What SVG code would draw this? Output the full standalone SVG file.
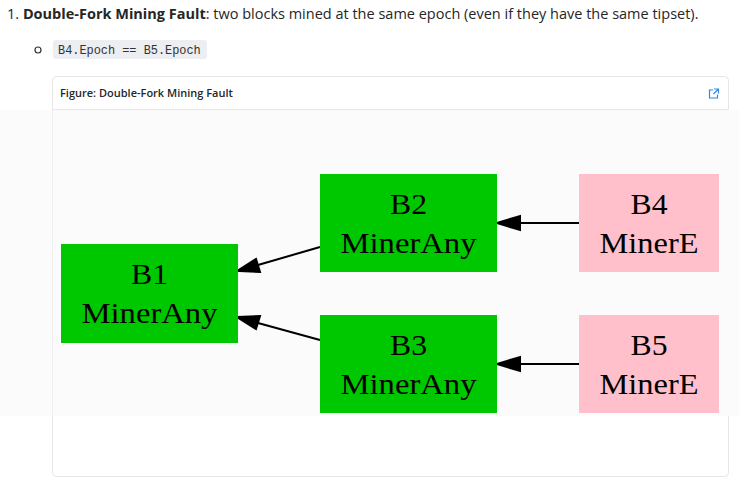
<svg xmlns="http://www.w3.org/2000/svg" width="739" height="489" viewBox="0 0 739 489">
<style>
.page{font-family:"Open Sans","Noto Sans",sans-serif;fill:#262626}
.code{font-family:"Liberation Mono","DejaVu Sans Mono",monospace;font-size:11.9px;fill:#333}
.lbl{font-family:"Liberation Serif","Times New Roman",serif;font-size:30px;fill:#000;text-anchor:middle}
.green{fill:#00c800}
.pink{fill:#ffc0cb}
.edge{stroke:#000;stroke-width:2;fill:none}
.head{fill:#000;stroke:#000;stroke-width:2}
</style>
<rect width="739" height="489" fill="#ffffff"/>
<text class="page" x="7" y="19" font-size="14.5">1. <tspan font-weight="bold">Double-Fork Mining Fault</tspan>: two blocks mined at the same epoch (even if they have the same tipset).</text>
<circle cx="38" cy="50" r="3" fill="none" stroke="#333" stroke-width="1.2"/>
<rect x="53" y="40" width="154" height="19" rx="3" fill="#eceef1"/>
<text class="code" x="58" y="54">B4.Epoch == B5.Epoch</text>
<rect x="52.5" y="76.5" width="676" height="400" rx="4" fill="#fff" stroke="#e6e6e6"/>
<line x1="53" y1="109.5" x2="728" y2="109.5" stroke="#e6e6e6"/>
<text class="page" x="60" y="97" font-size="11" font-weight="600" fill="#333">Figure: Double-Fork Mining Fault</text>
<g id="icon" fill="none" stroke="#2b8be6" stroke-width="1.2">
<path d="M713 90 h-3.5 v8 h8 v-3.5"/>
<path d="M714 89 h4.5 v4.5 M718.5 89 l-5 5"/>
</g>
<rect x="0" y="110" width="739" height="306" fill="#fbfbfb"/>
<line x1="52.5" y1="110" x2="52.5" y2="416" stroke="#efefef"/>
<g id="connectors">
<path class="edge" d="M320 247 L258 265"/>
<polygon class="head" points="237,271 256,259 260,272"/>
<path class="edge" d="M320 340 L258 323"/>
<polygon class="head" points="237,317 260,316 256,329"/>
<path class="edge" d="M579 223 L520 223"/>
<polygon class="head" points="497,223 520,216 520,230"/>
<path class="edge" d="M579 364 L520 364"/>
<polygon class="head" points="497,364 520,357 520,371"/>
</g>
<g id="B1"><rect class="green" x="61" y="244" width="177" height="99"/><text class="lbl" x="149.5" y="284" textLength="37" lengthAdjust="spacingAndGlyphs">B1</text><text class="lbl" x="149.5" y="323" textLength="136" lengthAdjust="spacingAndGlyphs">MinerAny</text></g>
<g id="B2"><rect class="green" x="320" y="174" width="177" height="98"/><text class="lbl" x="408.5" y="214" textLength="37" lengthAdjust="spacingAndGlyphs">B2</text><text class="lbl" x="408.5" y="253" textLength="136" lengthAdjust="spacingAndGlyphs">MinerAny</text></g>
<g id="B3"><rect class="green" x="320" y="315" width="177" height="98"/><text class="lbl" x="408.5" y="355" textLength="37" lengthAdjust="spacingAndGlyphs">B3</text><text class="lbl" x="408.5" y="394" textLength="136" lengthAdjust="spacingAndGlyphs">MinerAny</text></g>
<g id="B4"><rect class="pink" x="579" y="174" width="140" height="98"/><text class="lbl" x="649" y="214" textLength="37" lengthAdjust="spacingAndGlyphs">B4</text><text class="lbl" x="649" y="253" textLength="99" lengthAdjust="spacingAndGlyphs">MinerE</text></g>
<g id="B5"><rect class="pink" x="579" y="315" width="140" height="98"/><text class="lbl" x="649" y="355" textLength="37" lengthAdjust="spacingAndGlyphs">B5</text><text class="lbl" x="649" y="394" textLength="99" lengthAdjust="spacingAndGlyphs">MinerE</text></g>
</svg>
